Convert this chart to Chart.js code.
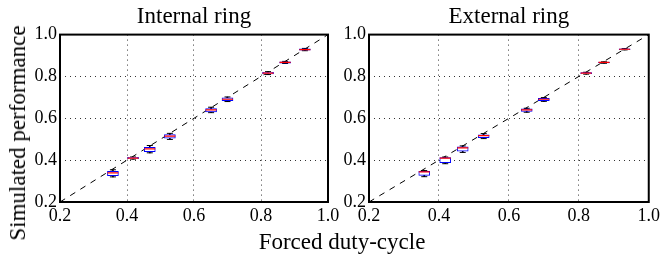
<!DOCTYPE html>
<html>
<head>
<meta charset="utf-8">
<script src="https://cdn.jsdelivr.net/npm/chart.js@4.4.1/dist/chart.umd.min.js"></script>
<style>
  body { margin: 0; background: #fff; }
  #wrap { position: relative; width: 663px; height: 268px; overflow: hidden; font-family: "Liberation Serif", serif; }
  canvas { position: absolute; top: 0; }
  #left { left: 0; }
  #right { left: 310px; }
  .label { position: absolute; color: #000; font-size: 23px; white-space: nowrap; }
  #ylabel { left: 18px; top: 133px; transform: translate(-50%, -50%) rotate(-90deg); }
  #xlabel { left: 342px; top: 229px; transform: translateX(-50%); }
</style>
</head>
<body>
<div id="wrap">
  <canvas id="left" width="345" height="268"></canvas>
  <canvas id="right" width="353" height="268"></canvas>
  <div id="ylabel" class="label">Simulated performance</div>
  <div id="xlabel" class="label">Forced duty-cycle</div>
</div>
<script>
// forced duty-cycle of each box (x)
const forcedDuty = [0.358, 0.418, 0.468, 0.528, 0.651, 0.700, 0.821, 0.872, 0.931];

// internal ring: medians, quartiles, whisker ends
const internalMed = [0.339, 0.410, 0.454, 0.515, 0.640, 0.691, 0.816, 0.867, 0.928];
const internalQ1 = [0.326, 0.407, 0.441, 0.505, 0.631, 0.684, 0.812, 0.864, 0.925];
const internalQ3 = [0.347, 0.413, 0.461, 0.522, 0.647, 0.698, 0.820, 0.870, 0.932];
const internalLo = [0.320, 0.405, 0.435, 0.499, 0.627, 0.680, 0.809, 0.862, 0.923];
const internalHi = [0.354, 0.415, 0.470, 0.528, 0.653, 0.702, 0.823, 0.872, 0.934];

// external ring
const externalMed = [0.344, 0.410, 0.459, 0.517, 0.640, 0.691, 0.816, 0.867, 0.930];
const externalQ1 = [0.327, 0.388, 0.443, 0.507, 0.633, 0.684, 0.813, 0.865, 0.928];
const externalQ3 = [0.347, 0.412, 0.464, 0.521, 0.645, 0.696, 0.818, 0.869, 0.932];
const externalLo = [0.321, 0.383, 0.437, 0.503, 0.629, 0.681, 0.811, 0.863, 0.927];
const externalHi = [0.350, 0.415, 0.468, 0.527, 0.648, 0.699, 0.820, 0.870, 0.933];

// reference line y = x
const diagonal = [0.2, 1.0];

const tickValues = [0.2, 0.4, 0.6, 0.8, 1.0];
const tickLabels = ["0.2", "0.4", "0.6", "0.8", "1.0"];

const serif = "'Liberation Serif', 'Times New Roman', serif";

const frame = {
  id: "frame",
  afterDraw(chart) {
    const { ctx, chartArea: a } = chart;
    ctx.save();
    ctx.strokeStyle = "#000";
    ctx.lineWidth = 2;
    ctx.strokeRect(a.left, a.top, a.right - a.left, a.bottom - a.top);
    ctx.restore();
  },
};

const axis = (extra) => ({
  type: "linear",
  min: 0.2,
  max: 1.0,
  offset: false,
  afterBuildTicks: (s) => {
    s.ticks = tickValues.map((v) => ({ value: v }));
  },
  ticks: {
    color: "#000",
    font: { family: serif, size: 18 },
    callback: (v) => tickLabels[tickValues.findIndex((t) => Math.abs(t - v) < 1e-6)],
    padding: 3,
  },
  grid: { color: "#333", lineWidth: 1, drawTicks: false, offset: false },
  border: { display: false, dash: [1, 4] },
  ...extra,
});

const makePanel = (id, title, med, q1, q3, lo, hi, yWidth, padRight) => {
  const datasets = [
    {
      type: "scatter",
      data: forcedDuty.map((x, i) => ({ x, y: med[i] })),
      pointStyle: "line",
      pointRadius: 5.5,
      borderColor: "#ff0000",
      borderWidth: 1.2,
      order: 0,
    },
    {
      type: "bar",
      data: forcedDuty.map((x, i) => ({ x, y: [q1[i], q3[i]] })),
      backgroundColor: "#fff",
      borderColor: "#0000ff",
      borderWidth: 1,
      borderSkipped: false,
      barThickness: 11,
      grouped: false,
      order: 1,
    },
    {
      type: "scatter",
      data: forcedDuty
        .map((x, i) => ({ x, y: lo[i] }))
        .concat(forcedDuty.map((x, i) => ({ x, y: hi[i] }))),
      pointStyle: "line",
      pointRadius: 3,
      borderColor: "#000",
      borderWidth: 1,
      order: 2,
    },
    {
      type: "bar",
      data: forcedDuty.map((x, i) => ({ x, y: [lo[i], hi[i]] })),
      backgroundColor: "#000",
      borderWidth: 0,
      barThickness: 1,
      grouped: false,
      order: 3,
    },
    {
      type: "line",
      data: diagonal.map((v) => ({ x: v, y: v })),
      borderColor: "#000",
      borderWidth: 1,
      borderDash: [6, 6],
      pointRadius: 0,
      order: 4,
    },
  ];

  new Chart(document.getElementById(id), {
    type: "bar",
    data: { datasets },
    options: {
      responsive: false,
      animation: false,
      devicePixelRatio: 1,
      layout: { padding: { left: 0, right: padRight, top: 0, bottom: 36 } },
      plugins: {
        legend: { display: false },
        tooltip: { enabled: false },
        title: {
          display: true,
          text: title,
          fullSize: false,
          color: "#000",
          font: { family: serif, size: 23, weight: "normal" },
          padding: { top: 3, bottom: 4 },
        },
      },
      scales: {
        x: axis({
          afterFit: (s) => {
            s.height = 30;
          },
        }),
        y: axis({
          afterFit: (s) => {
            s.width = yWidth;
          },
        }),
      },
    },
    plugins: [frame],
  });
};

makePanel("left", "Internal ring", internalMed, internalQ1, internalQ3, internalLo, internalHi, 60, 17);
makePanel("right", "External ring", externalMed, externalQ1, externalQ3, externalLo, externalHi, 59, 12);
</script>
</body>
</html>
